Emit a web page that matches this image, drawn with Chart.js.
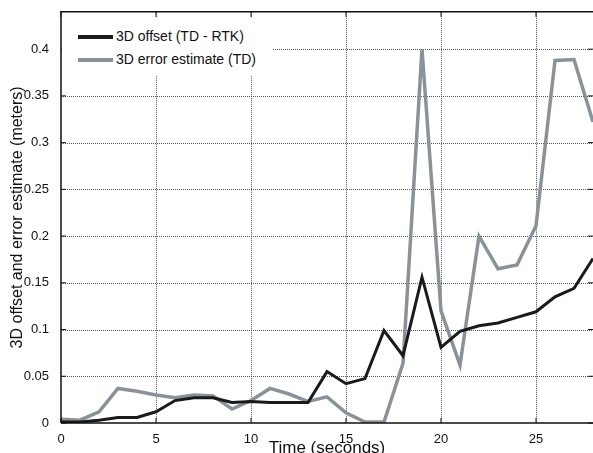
<!DOCTYPE html>
<html lang="en">
<head>
    <meta charset="UTF-8">
    <title>3D offset and error estimate</title>
    <script src="https://cdn.jsdelivr.net/npm/chart.js"></script>
    <style>
        body { margin: 0; background: #fff; }
        .wrap { position: relative; width: 593px; height: 453px; }
        .legend {
            position: absolute; left: 62px; top: 18px; width: 210px; height: 57px;
            background: #fff; font-family: "Liberation Sans", Arial, sans-serif; font-size: 14px; color: #111;
        }
        .legend div { position: absolute; left: 16px; height: 20px; line-height: 20px; white-space: nowrap; }
        .legend span { display: inline-block; width: 35px; vertical-align: middle; margin-right: 3px; }
    </style>
</head>
<body>
    <div class="wrap">
        <canvas id="chart" width="593" height="453"></canvas>
        <div class="legend">
            <div style="top: 8px;"><span style="border-top: 4px solid #1a1a1a;"></span>3D offset (TD - RTK)</div>
            <div style="top: 31px;"><span style="border-top: 4px solid #8a9299;"></span>3D error estimate (TD)</div>
        </div>
    </div>

    <script>
        const times = [0, 1, 2, 3, 4, 5, 6, 7, 8, 9, 10, 11, 12, 13, 14, 15, 16, 17, 18, 19, 20, 21, 22, 23, 24, 25, 26, 27, 28];
        const offsetTdRtk = [0.001, 0.001, 0.003, 0.006, 0.006, 0.012, 0.024, 0.027, 0.027, 0.022, 0.023, 0.022, 0.022, 0.022,
            0.055, 0.042, 0.0475, 0.099, 0.072, 0.156, 0.081, 0.098, 0.104, 0.107, 0.113, 0.119, 0.135, 0.144, 0.176];
        const errorEstimateTd = [0.004, 0.003, 0.012, 0.037, 0.034, 0.030, 0.027, 0.030, 0.029, 0.015, 0.024, 0.037, 0.031, 0.023,
            0.028, 0.011, 0.001, 0.001, 0.064, 0.400, 0.120, 0.062, 0.200, 0.165, 0.169, 0.211, 0.388, 0.389, 0.322];
        const xTicks = [0, 5, 10, 15, 20, 25];
        const yTicks = [0, 0.05, 0.1, 0.15, 0.2, 0.25, 0.3, 0.35, 0.4];

        const family = '"Liberation Sans", Arial, sans-serif';
        const font = { family, size: 13 };

        // dotted grid, box outline and inward tick marks, MATLAB style
        const framePlugin = {
            id: 'frame',
            beforeDatasetsDraw(chart) {
                const { ctx, chartArea: a, scales: { x, y } } = chart;
                ctx.save();
                ctx.strokeStyle = '#555';
                ctx.lineWidth = 1;
                ctx.setLineDash([1, 1]);
                ctx.beginPath();
                xTicks.slice(1).forEach(v => {
                    const px = Math.round(x.getPixelForValue(v)) + 0.5;
                    ctx.moveTo(px, a.top); ctx.lineTo(px, a.bottom);
                });
                yTicks.slice(1).forEach(v => {
                    const py = Math.round(y.getPixelForValue(v)) + 0.5;
                    ctx.moveTo(a.left, py); ctx.lineTo(a.right, py);
                });
                ctx.stroke();
                ctx.restore();
            },
            afterDraw(chart) {
                const { ctx, chartArea: a, scales: { x, y } } = chart;
                ctx.save();
                ctx.strokeStyle = '#111';
                ctx.lineWidth = 1.5;
                ctx.beginPath();
                ctx.moveTo(a.left, a.bottom); ctx.lineTo(a.left, a.top); ctx.lineTo(a.right, a.top);
                ctx.moveTo(a.left, a.bottom); ctx.lineTo(a.right, a.bottom);
                ctx.stroke();
                ctx.lineWidth = 1;
                ctx.beginPath();
                xTicks.forEach(v => {
                    const px = x.getPixelForValue(v);
                    ctx.moveTo(px, a.top); ctx.lineTo(px, a.top + 5);
                    ctx.moveTo(px, a.bottom); ctx.lineTo(px, a.bottom - 5);
                });
                yTicks.forEach(v => {
                    const py = y.getPixelForValue(v);
                    ctx.moveTo(a.left, py); ctx.lineTo(a.left + 5, py);
                    ctx.moveTo(a.right, py); ctx.lineTo(a.right - 5, py);
                });
                ctx.stroke();
                ctx.restore();
            }
        };

        new Chart(document.getElementById('chart'), {
            type: 'line',
            data: {
                labels: times,
                datasets: [
                    { label: '3D offset (TD - RTK)', data: offsetTdRtk, borderColor: '#1a1a1a', borderWidth: 3, pointRadius: 0, tension: 0 },
                    { label: '3D error estimate (TD)', data: errorEstimateTd, borderColor: '#8a9299', borderWidth: 3.5, pointRadius: 0, tension: 0 }
                ]
            },
            options: {
                responsive: false,
                animation: false,
                layout: { padding: { top: 10, right: 0, left: 0, bottom: 0 } },
                plugins: { legend: { display: false }, tooltip: { enabled: false } },
                scales: {
                    x: {
                        type: 'linear', min: 0, max: 28,
                        afterBuildTicks: s => { s.ticks = xTicks.map(v => ({ value: v })); },
                        afterFit: s => { s.height = 30; },
                        grid: { display: false },
                        border: { display: false },
                        ticks: { font, color: '#111', padding: 1, maxRotation: 0, callback: v => String(v) },
                        title: { display: true, text: 'Time (seconds)', font: { family, size: 17 }, color: '#111', padding: { top: 0, bottom: -6 } }
                    },
                    y: {
                        min: 0, max: 0.44,
                        afterBuildTicks: s => { s.ticks = yTicks.map(v => ({ value: v })); },
                        afterFit: s => { s.width = 61; },
                        grid: { display: false },
                        border: { display: false },
                        ticks: { font, color: '#111', padding: 4, callback: v => String(+v.toFixed(2)) },
                        title: { display: true, text: '3D offset and error estimate (meters)', font: { family, size: 16 }, color: '#111', padding: { top: 8, bottom: 0 } }
                    }
                }
            },
            plugins: [framePlugin]
        });
    </script>
</body>
</html>
